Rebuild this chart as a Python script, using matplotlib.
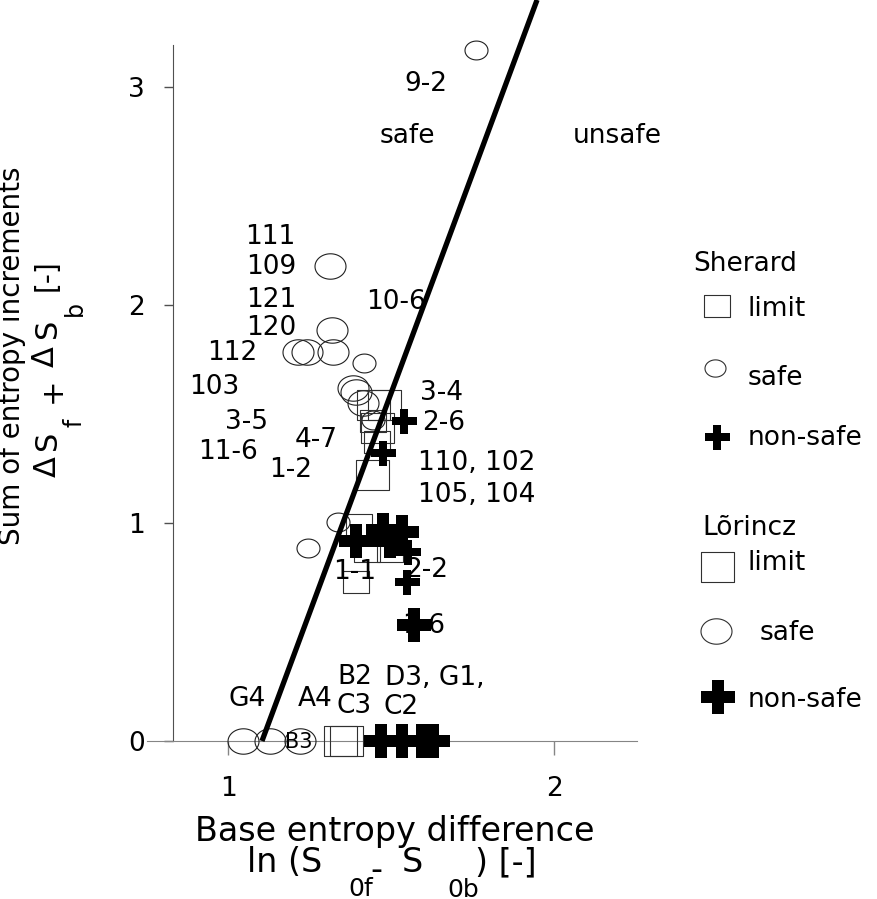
import numpy as np
import matplotlib
matplotlib.use("Agg")
import matplotlib.pyplot as plt
from matplotlib.path import Path

plt.rcParams['font.family'] = ['DejaVu Sans']

W, H = 877, 899

# Sherard data (small markers)
sherard_safe_x = [1.761, 1.417, 1.445, 1.337, 1.245]
sherard_safe_y = [3.170, 1.734, 1.472, 1.005, 0.885]
sherard_limit_x = [1.457, 1.445, 1.402, 1.393, 1.426, 1.497]
sherard_limit_y = [1.372, 1.468, 0.991, 0.729, 0.872, 0.872]
sherard_unsafe_x = [1.540, 1.475, 1.552, 1.549]
sherard_unsafe_y = [1.468, 1.321, 0.867, 0.729]

# Lorincz data (large markers)
lorincz_safe_x = [1.313, 1.319, 1.215, 1.242, 1.322, 1.383, 1.393, 1.414, 1.046, 1.129, 1.221]
lorincz_safe_y = [2.179, 1.885, 1.784, 1.784, 1.784, 1.619, 1.601, 1.550, 0.0, 0.0, 0.0]
lorincz_limit_x = [1.445, 1.479, 1.457, 1.442, 1.344, 1.362]
lorincz_limit_y = [1.541, 1.541, 1.436, 1.220, 0.0, 0.0]
lorincz_unsafe_x = [1.393, 1.475, 1.534, 1.497, 1.571, 1.469, 1.534, 1.595, 1.629]
lorincz_unsafe_y = [0.917, 0.968, 0.959, 0.917, 0.532, 0.0, 0.0, 0.0, 0.0]

# safe / unsafe boundary
boundary_x = [1.104, 1.948]
boundary_y = [0.0, 3.40]

# point labels
point_labels = ["9-2", "111", "109", "121", "120", "112", "103", "3-5", "11-6",
                "4-7", "1-2", "10-6", "3-4", "2-6", "1-1", "2-2", "1-6",
                "G4", "A4", "B2", "C3", "D3, G1,", "C2"]
label_x = [1.607, 1.129, 1.132, 1.132, 1.132, 1.012, 0.957, 1.055, 1.000,
           1.270, 1.193, 1.515, 1.656, 1.660, 1.387, 1.610, 1.601,
           1.058, 1.267, 1.390, 1.387, 1.635, 1.531]
label_y = [3.014, 2.312, 2.174, 2.023, 1.894, 1.780, 1.624, 1.463, 1.326,
           1.381, 1.243, 2.014, 1.596, 1.459, 0.775, 0.784, 0.528,
           0.193, 0.193, 0.294, 0.161, 0.289, 0.156]
left_labels = ["110, 102", "105, 104"]
left_label_x = [1.583, 1.583]
left_label_y = [1.275, 1.128]

# marker shapes: the original is slightly stretched horizontally
t = np.linspace(0, 2 * np.pi, 80)
ellipse = Path(np.column_stack([np.cos(t), 0.82 * np.sin(t)]), closed=True)
rect = Path([(-1, -0.88), (1, -0.88), (1, 0.88), (-1, 0.88), (-1, -0.88)], closed=True)

def pt(px):
    return px * 72.0 / 100

fig = plt.figure(figsize=(W / 100, H / 100), dpi=100)
ax = fig.add_axes([173 / W, 1 - 741 / H, (637 - 173) / W, (741 - 45) / H])
ax.set_xlim(0.831, 2.2546)
ax.set_ylim(0, 3.193)

for s in ['top', 'right']:
    ax.spines[s].set_visible(False)
ax.spines['left'].set_color('#505050')
ax.spines['bottom'].set_color('#858585')
ax.spines['bottom'].set_bounds(0.751, 2.2546)
ax.set_xticks([1, 2])
ax.set_yticks([0, 1, 2, 3])
ax.tick_params(axis='x', length=10, width=1, color='#858585', pad=15, labelsize=19)
ax.tick_params(axis='y', length=6.5, width=1, color='#505050', pad=14, labelsize=19)

ax.plot(boundary_x, boundary_y, color='black', lw=3.8, clip_on=False, zorder=4,
        solid_capstyle='butt')

common = dict(linestyle='none', clip_on=False)
ax.plot(sherard_safe_x, sherard_safe_y, marker=ellipse, ms=pt(23), mfc='none',
        mec='#202020', mew=0.8, zorder=3, **common)
ax.plot(lorincz_safe_x, lorincz_safe_y, marker=ellipse, ms=pt(31), mfc='none',
        mec='#202020', mew=0.8, zorder=3, **common)
ax.plot(sherard_limit_x, sherard_limit_y, marker=rect, ms=pt(26), mfc='none',
        mec='#303030', mew=0.8, zorder=3, **common)
ax.plot(lorincz_limit_x, lorincz_limit_y, marker=rect, ms=pt(33), mfc='none',
        mec='#303030', mew=0.8, zorder=3, **common)
ax.plot(sherard_unsafe_x, sherard_unsafe_y, marker='P', ms=pt(25), mfc='black',
        mec='black', mew=0, zorder=6, **common)
ax.plot(lorincz_unsafe_x, lorincz_unsafe_y, marker='P', ms=pt(34), mfc='black',
        mec='black', mew=0, zorder=6, **common)

for s, x, y in zip(point_labels, label_x, label_y):
    ax.text(x, y, s, fontsize=19, ha='center', va='center', zorder=5)
for s, x, y in zip(left_labels, left_label_x, left_label_y):
    ax.text(x, y, s, fontsize=19, ha='left', va='center', zorder=5)
ax.text(1.218, -0.005, "B3", fontsize=15, ha='center', va='center', zorder=5)
ax.text(1.549, 2.775, "safe", fontsize=19, ha='center', va='center')
ax.text(2.193, 2.775, "unsafe", fontsize=19, ha='center', va='center')

# overlay in pixel coordinates for axis titles and legend
lax = fig.add_axes([0, 0, 1, 1], zorder=10)
lax.set_xlim(0, W)
lax.set_ylim(H, 0)
lax.axis('off')
lax.patch.set_alpha(0)

lax.text(395, 832, "Base entropy difference", fontsize=24, ha='center', va='center')
lax.text(247, 863, "ln (S", fontsize=24, ha='left', va='center')
lax.text(348, 889, "0f", fontsize=18, ha='left', va='center')
lax.text(370, 870, "-", fontsize=24, ha='left', va='center')
lax.text(402, 863, "S", fontsize=24, ha='left', va='center')
lax.text(447, 890, "0b", fontsize=18, ha='left', va='center')
lax.text(475, 863, ") [-]", fontsize=24, ha='left', va='center')

lax.text(12, 356, "Sum of entropy increments", fontsize=20, rotation=90,
         ha='center', va='center')
lax.text(47, 467, "\u0394", fontsize=22, rotation=90, ha='center', va='center')
lax.text(47, 440, "S", fontsize=22, rotation=90, ha='center', va='center')
lax.text(75, 423, "f", fontsize=17, rotation=90, ha='center', va='center')
lax.text(52, 390, "+", fontsize=22, rotation=90, ha='center', va='center')
lax.text(45, 357, "\u0394", fontsize=22, rotation=90, ha='center', va='center')
lax.text(47, 328, "S", fontsize=22, rotation=90, ha='center', va='center')
lax.text(75, 308, "b", fontsize=17, rotation=90, ha='center', va='center')
lax.text(47, 275, "[-]", fontsize=20, rotation=90, ha='center', va='center')

# legend
legend_titles = ["Sherard", "L\u00f5rincz"]
legend_title_pos = [(693, 264), (702, 528)]
legend_names = ["limit", "safe", "non-safe", "limit", "safe", "non-safe"]
legend_markers = [rect, ellipse, 'P', rect, ellipse, 'P']
legend_sizes = [26, 21, 25, 33, 31, 34]
legend_marker_pos = [(717, 306), (715, 368), (717, 437), (717, 567), (716, 631), (718, 697)]
legend_text_pos = [(748, 309), (748, 378), (748, 438), (748, 563), (760, 633), (748, 700)]

for s, (x, y) in zip(legend_titles, legend_title_pos):
    lax.text(x, y, s, fontsize=19, ha='left', va='center')
for m, sz, (mx, my), s, (tx, ty) in zip(legend_markers, legend_sizes,
                                        legend_marker_pos, legend_names, legend_text_pos):
    if m == 'P':
        lax.plot([mx], [my], marker='P', ms=pt(sz), mfc='black', mew=0)
    else:
        lax.plot([mx], [my], marker=m, ms=pt(sz), mfc='none', mec='#303030', mew=0.8)
    lax.text(tx, ty, s, fontsize=19, ha='left', va='center')

fig.savefig("out.png", dpi=100)
